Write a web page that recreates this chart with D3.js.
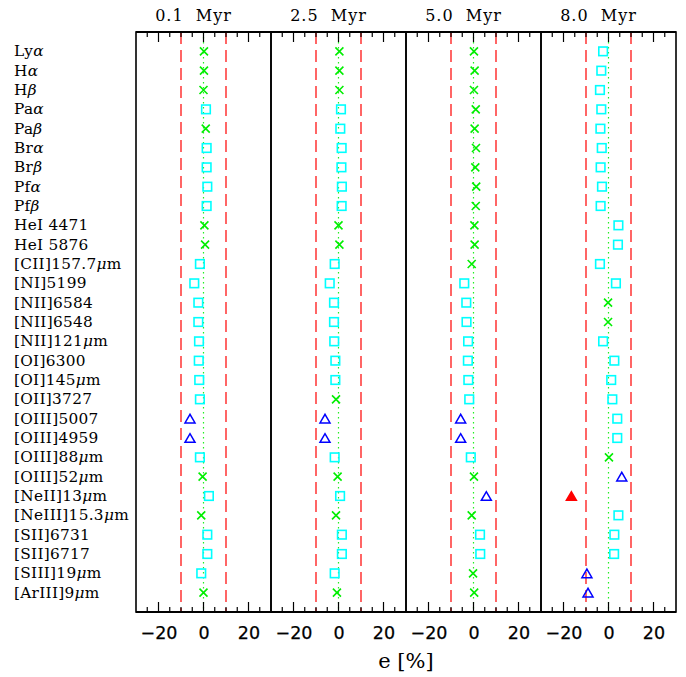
<!DOCTYPE html>
<html>
<head>
<meta charset="utf-8">
<script src="https://cdn.jsdelivr.net/npm/d3@7"></script>
<style>
  body { margin: 0; background: #fff; }
  svg { display: block; }
</style>
</head>
<body>
<svg id="chart" width="686" height="677"></svg>
<script>
// ---------------- DATA ----------------
const lines = ["Lyα","Hα","Hβ","Paα","Paβ","Brα","Brβ","Pfα","Pfβ",
  "HeI 4471","HeI 5876","[CII]157.7μm","[NI]5199","[NII]6584","[NII]6548",
  "[NII]121μm","[OI]6300","[OI]145μm","[OII]3727","[OIII]5007","[OIII]4959",
  "[OIII]88μm","[OIII]52μm","[NeII]13μm","[NeIII]15.3μm","[SII]6731",
  "[SII]6717","[SIII]19μm","[ArIII]9μm"];

const ages = ["0.1 Myr","2.5 Myr","5.0 Myr","8.0 Myr"];

// e [%] values per age panel
const e01 = [0.2,0.2,0,1.1,1.0,1.4,1.4,1.7,1.4,0.4,0.7,-1.6,-4.1,-2.3,-2.3,-2.0,-2.1,-1.9,-1.6,-6.0,-6.0,-1.6,-0.4,2.4,-1.0,1.7,1.7,-1.0,0];
const e25 = [0.4,0.4,0.4,1.1,0.8,1.4,1.3,1.5,1.4,0,0.4,-1.7,-3.9,-2.0,-2.0,-1.9,-1.4,-1.4,-1.1,-6.0,-6.0,-1.7,-0.4,0.7,-1.1,1.5,1.5,-1.7,-0.7];
const e50 = [0.2,0.5,0.2,1.0,0.5,1.1,0.8,1.2,1.0,0.4,0.5,-0.8,-4.1,-3.2,-3.1,-2.4,-2.5,-2.3,-1.9,-5.7,-5.7,-1.2,0.2,5.7,-0.8,2.9,3.0,-0.2,0.3];
const e80 = [-2.4,-3.2,-3.8,-3.2,-3.6,-3.0,-3.5,-2.9,-3.5,4.4,4.2,-3.8,3.3,-0.2,-0.2,-2.4,2.6,1.2,1.7,3.9,3.9,0.2,5.9,-16.5,4.4,2.6,2.5,-9.6,-9.1];

// symbol kind per panel: x = cross, s = open square, t = open triangle, f = filled triangle
const k01 = "xxxsxssssxxssssssssttsxsxsssx".split("");
const k25 = "xxxssssssxxsssssssxttsxsxsssx".split("");
const k50 = "xxxxxxxxxxxxsssssssttsxtxssxx".split("");
const k80 = "sssssssssssssxxssssssxtfssstt".split("");

const xTicksMajor = [-20,0,20];
const xTicksMinor = [-25,-15,-10,-5,5,10,15,25];
const limits = [-10,10];
const xTitle = "e [%]";

// ---------------- LAYOUT ----------------
const panelsData = [
  {age: ages[0], vals: e01, kinds: k01},
  {age: ages[1], vals: e25, kinds: k25},
  {age: ages[2], vals: e50, kinds: k50},
  {age: ages[3], vals: e80, kinds: k80}
];

const L = 136, PW = 135, T = 32, B = 612;
const svg = d3.select("#chart");

const y = d3.scaleLinear().domain([0, 30]).range([T, B]);

const colors = {x: "#00ee00", s: "#00ffff", t: "#0000ff", f: "#ff0000"};

// row labels
const lab = svg.append("g");
lines.forEach((name, i) => {
  const t = lab.append("text")
    .attr("x", 14).attr("y", y(i + 1) + 5)
    .attr("font-family", "DejaVu Serif, serif")
    .attr("font-size", 15.3)
    .attr("letter-spacing", 0.3)
    .attr("fill", "#000");
  const parts = name.split(/([αβμ])/);
  parts.forEach(p => {
    if (!p) return;
    const ts = t.append("tspan").text(p);
    if (/[αβμ]/.test(p)) ts.attr("font-style", "italic");
  });
});

panelsData.forEach((pd, pi) => {
  const x0 = L + pi * PW;
  const x = d3.scaleLinear().domain([-30, 30]).range([x0, x0 + PW]);
  const g = svg.append("g");

  // reference lines
  limits.forEach(v => {
    g.append("line").attr("x1", x(v)).attr("x2", x(v))
      .attr("y1", T).attr("y2", B)
      .attr("stroke", "#ff0000").attr("stroke-width", 1.2)
      .attr("stroke-dasharray", "12,6");
  });
  g.append("line").attr("x1", x(0)).attr("x2", x(0))
    .attr("y1", T).attr("y2", B)
    .attr("stroke", "#22ee22").attr("stroke-width", 1.2)
    .attr("stroke-dasharray", "1.5,3.5");

  // tick labels bottom
  const axB = d3.axisBottom(x).tickValues(xTicksMajor)
    .tickFormat(d => d < 0 ? "\u2212" + Math.abs(d) : d).tickSize(0).tickPadding(0);
  const gb = g.append("g").attr("transform", `translate(0,${B})`).call(axB);
  gb.select(".domain").remove();
  gb.selectAll("text").attr("font-family", "DejaVu Sans, sans-serif")
    .attr("font-size", 17.5).attr("dy", null).attr("y", 27).attr("fill", "#000")
    .attr("stroke", "#000").attr("stroke-width", 0.25);

  const tickG = g.append("g").attr("stroke", "#000").attr("stroke-width", 1.2);
  xTicksMajor.forEach(v => {
    tickG.append("line").attr("x1", x(v)).attr("x2", x(v)).attr("y1", B).attr("y2", B - 10);
    tickG.append("line").attr("x1", x(v)).attr("x2", x(v)).attr("y1", T).attr("y2", T + 10);
  });
  xTicksMinor.forEach(v => {
    tickG.append("line").attr("x1", x(v)).attr("x2", x(v)).attr("y1", B).attr("y2", B - 5);
    tickG.append("line").attr("x1", x(v)).attr("x2", x(v)).attr("y1", T).attr("y2", T + 5);
  });

  // title
  svg.append("text").attr("x", x(0) - 10).attr("y", 21)
    .attr("text-anchor", "middle")
    .attr("font-family", "DejaVu Serif, serif").attr("font-size", 16)
    .attr("letter-spacing", 1)
    .text(pd.age.replace(" ", "\u00a0\u00a0"));

  // markers
  const mg = g.append("g");
  pd.vals.forEach((v, i) => {
    const cx = x(v), cy = y(i + 1), k = pd.kinds[i];
    if (k === "x") {
      const h = 4;
      mg.append("path").attr("d", `M${cx-h},${cy-h}L${cx+h},${cy+h}M${cx-h},${cy+h}L${cx+h},${cy-h}`)
        .attr("stroke", colors.x).attr("stroke-width", 1.6).attr("fill", "none");
    } else if (k === "s") {
      mg.append("rect").attr("x", cx - 4.3).attr("y", cy - 4.3).attr("width", 8.6).attr("height", 8.6)
        .attr("stroke", colors.s).attr("stroke-width", 1.6).attr("fill", "none");
    } else {
      const w = 5, h = 8.6;
      const d = `M${cx-w},${cy+h/2}L${cx+w},${cy+h/2}L${cx},${cy-h/2}Z`;
      mg.append("path").attr("d", d)
        .attr("stroke", colors[k]).attr("stroke-width", 1.5)
        .attr("fill", k === "f" ? colors.f : "none");
    }
  });

  // frame
  g.append("rect").attr("x", x0).attr("y", T).attr("width", PW).attr("height", B - T)
    .attr("fill", "none").attr("stroke", "#000").attr("stroke-width", 1.6);
});

// thicker top and bottom axes
svg.append("line").attr("x1", L).attr("x2", L + 4 * PW).attr("y1", T).attr("y2", T)
  .attr("stroke", "#000").attr("stroke-width", 2.2);
svg.append("line").attr("x1", L).attr("x2", L + 4 * PW).attr("y1", B).attr("y2", B)
  .attr("stroke", "#000").attr("stroke-width", 2.2);

// x-axis title
svg.append("text").attr("x", L + 2 * PW).attr("y", 668)
  .attr("text-anchor", "middle")
  .attr("font-family", "DejaVu Serif, serif").attr("font-size", 21)
  .text(xTitle);
</script>
</body>
</html>
